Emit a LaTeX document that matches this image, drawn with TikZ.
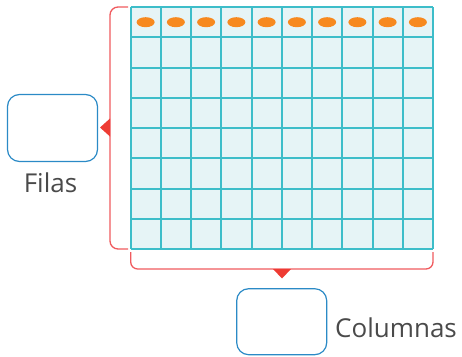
\documentclass[tikz,border=0pt]{standalone}
\usepackage{fontspec}
\setmainfont{Open Sans}
\definecolor{gridline}{HTML}{3DBDC9}
\definecolor{gridfill}{HTML}{E6F4F6}
\definecolor{dotcol}{HTML}{F7891F}
\definecolor{brack}{HTML}{F05A5E}
\definecolor{tri}{HTML}{EE3B33}
\definecolor{boxcol}{HTML}{2B8AC6}
\definecolor{txt}{HTML}{4A4A4A}
\tikzset{
  answerbox/.style={draw=boxcol, line width=1.2pt, rounded corners=12pt, fill=white, inner sep=0pt},
  labeltext/.style={text=txt, font=\fontsize{26}{30}\selectfont, inner sep=0pt},
  bracket/.style={draw=brack, line width=1.3pt},
  pointer/.style={fill=tri},
  dot/.style={ellipse, fill=dotcol, minimum width=18pt, minimum height=10pt, inner sep=0pt},
}
\usetikzlibrary{shapes.geometric}
\begin{document}
\begin{tikzpicture}[x=1pt,y=-1pt]
\useasboundingbox (0,0) rectangle (462,356);
% grid
\fill[gridfill] (130.5,7) rectangle (433,249);
\foreach \i in {0,...,10} {
  \draw[gridline, line width=2pt] ({130.5+30.25*\i},7) -- ({130.5+30.25*\i},249);
}
\foreach \j in {0,...,8} {
  \draw[gridline, line width=2pt] (130.5,{7+30.25*\j}) -- (433,{7+30.25*\j});
}
\coordinate (grid) at (281.75,128);
\foreach \i in {0,...,9} {
  \node[dot] (d\i) at ({130.5+30.25*(\i+0.5)},22.2) {};
}
% left bracket
\draw[bracket, rounded corners=8pt] (128,7) -- (110,7) -- (110,249) -- (128,249);
\fill[pointer] (110,118.5) -- (100,127.5) -- (110,136.5) -- cycle;
% bottom bracket
\draw[bracket, rounded corners=7pt] (130.7,252) -- (130.7,269) -- (433,269) -- (433,252);
\fill[pointer] (273,269) -- (282,278.5) -- (291,269) -- cycle;
% boxes
\node[answerbox, minimum width=90pt, minimum height=67pt] (filasbox) at (52.5,128) {};
\node[labeltext, anchor=base] (filas) at (50.5,192) {Filas};
\node[answerbox, minimum width=90pt, minimum height=66pt] (colbox) at (281.7,321.7) {};
\node[labeltext, anchor=base west] (col) at (335,337) {Columnas};
\end{tikzpicture}
\end{document}
